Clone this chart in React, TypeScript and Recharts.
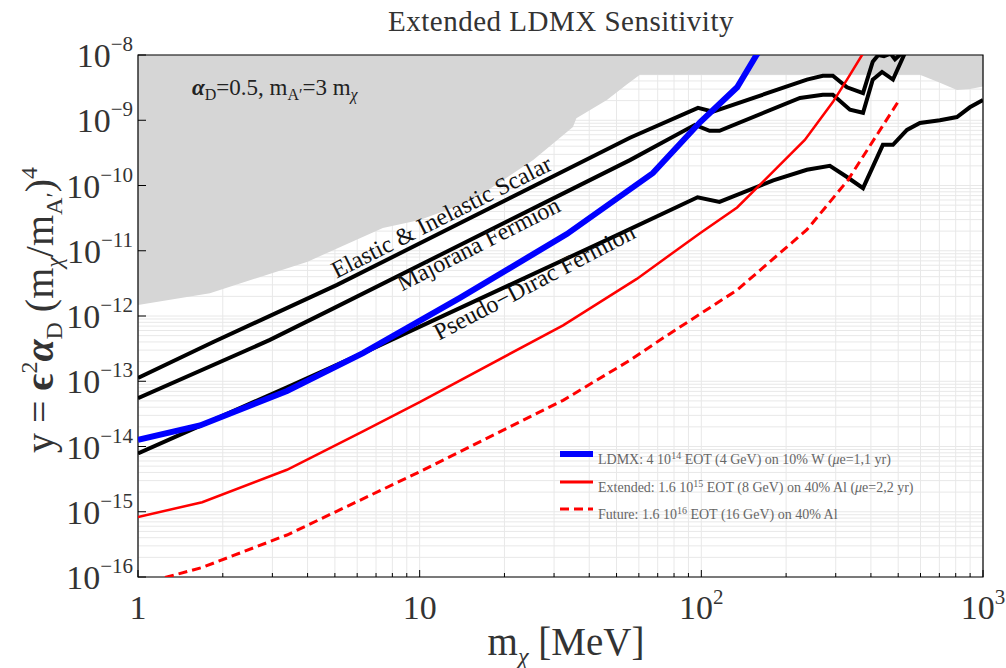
import React from "react";
import {
  ComposedChart,
  Line,
  Area,
  XAxis,
  YAxis,
  CartesianGrid,
  ReferenceArea,
} from "recharts";

const W = 1006;
const H = 668;
const FONT = "'Liberation Serif', 'DejaVu Serif', serif";

// excluded region (lower edge), MeV vs y
const bgX = [1, 1.8, 4, 7.4, 10, 14.3, 16.8, 25.3, 35, 36, 46.2, 54.5, 60.5, 597, 700, 808, 900, 1000];
const bgY = [1.48e-12, 2.24e-12, 6.8e-12, 2.24e-11, 2.95e-11, 5.2e-11, 7.6e-11, 2.45e-10, 7.9e-10, 1.07e-9, 2.04e-9, 3.55e-9, 5.0e-9, 5.0e-9, 3.8e-9, 2.9e-9, 3.0e-9, 3.3e-9];

// relic targets
const scalarX = [1, 1.85, 5.09, 55.8, 97.3, 110, 237, 270, 293, 329, 375, 406, 425, 445, 470, 487, 530];
const scalarY = [1.12e-13, 4.0e-13, 3.0e-12, 5.4e-10, 1.55e-9, 1.35e-9, 4.2e-9, 4.8e-9, 4.8e-9, 3.2e-9, 2.6e-9, 7.9e-9, 1.0e-8, 9.6e-9, 1.05e-8, 8.6e-9, 1.2e-8];

const majX = [1, 2.94, 4.8, 26.7, 55.8, 94.9, 107, 116, 224, 270, 293, 337, 375, 406, 438, 479, 528];
const majY = [5.5e-14, 4.3e-13, 1.23e-12, 5.0e-11, 2.45e-10, 8.5e-10, 6.9e-10, 6.9e-10, 2.2e-9, 2.45e-9, 2.45e-9, 1.45e-9, 1.3e-9, 4.2e-9, 5.5e-9, 4.2e-9, 1.07e-8];

const pdX = [1, 3.38, 6.29, 48.5, 97, 116, 180, 237, 286, 329, 375, 441, 479, 537, 597, 703, 808, 898, 1000];
const pdY = [7.8e-15, 8.1e-14, 2.7e-13, 1.62e-11, 6.6e-11, 5.6e-11, 1.2e-10, 1.74e-10, 2.0e-10, 1.35e-10, 9.1e-11, 4.2e-10, 4.2e-10, 7.1e-10, 9.1e-10, 1.0e-9, 1.12e-9, 1.58e-9, 2.04e-9];

// projections
const ldmxX = [1, 1.66, 3.38, 6.29, 13.9, 33.3, 67.3, 98.9, 134, 157, 170];
const ldmxY = [1.26e-14, 2.1e-14, 7.1e-14, 2.7e-13, 1.9e-12, 1.8e-11, 1.55e-10, 9.3e-10, 3.2e-9, 1.0e-8, 1.6e-8];

const extX = [1, 1.69, 3.38, 6.29, 10, 32.3, 59, 98.9, 134, 233, 293, 329, 372, 390];
const extY = [8.3e-16, 1.4e-15, 4.4e-15, 1.7e-14, 4.8e-14, 7.2e-13, 3.7e-12, 1.86e-11, 4.6e-11, 5.0e-10, 1.9e-9, 4.2e-9, 1.0e-8, 1.4e-8];

const futX = [1, 1.69, 3.38, 10, 32.3, 55.8, 73.1, 134, 237, 331, 499];
const futY = [7.6e-17, 1.4e-16, 4.4e-16, 4.1e-15, 5.1e-14, 2.1e-13, 4.6e-13, 2.5e-12, 2.1e-11, 1.2e-10, 1.9e-9];

const xMajor = [1, 10, 100, 1000];
const yMajor = [1e-16, 1e-15, 1e-14, 1e-13, 1e-12, 1e-11, 1e-10, 1e-9, 1e-8];

// minor grid positions (2..9 per decade)
const xMinor: number[] = [];
xMajor.slice(0, 3).forEach((d) => {
  for (let m = 1; m < 10; m++) xMinor.push(m * d);
});
xMinor.push(1000);
const yMinor: number[] = [];
yMajor.slice(0, 8).forEach((d) => {
  for (let m = 1; m < 10; m++) yMinor.push(m * d);
});
yMinor.push(1e-8);

const rows = (xs: number[], ys: number[]) => xs.map((x, i) => ({ x, y: ys[i] }));
const bandRows = bgX.map((x, i) => ({ x, band: [bgY[i], 1e-8] }));

function XTick(props: any) {
  const { x, y, payload } = props;
  const v = payload.value;
  const major = xMajor.includes(v);
  const e = Math.round(Math.log10(v));
  return (
    <g>
      <line x1={x} x2={x} y1={y} y2={y - (major ? 7 : 4)} stroke="#000" strokeWidth={1} />
      {major && (
        <text x={x} y={y + 42} textAnchor="middle" fontSize={34} fontFamily={FONT} fill="#333">
          {e < 2 ? String(v) : (
            <>
              10<tspan dy={-15} fontSize={21}>{e}</tspan>
            </>
          )}
        </text>
      )}
    </g>
  );
}

function YTick(props: any) {
  const { x, y, payload } = props;
  const e = Math.round(Math.log10(payload.value));
  return (
    <g>
      <line x1={x} x2={x + 8} y1={y} y2={y} stroke="#000" strokeWidth={1} />
      <text x={x - 5} y={y + 12} textAnchor="end" fontSize={34} fontFamily={FONT} fill="#333">
        10<tspan dy={-16} fontSize={21}>{"\u2212" + Math.abs(e)}</tspan>
      </text>
    </g>
  );
}

function Overlay() {
  const legend = [
    { y: 454, color: "#0000ff", w: 6, dash: undefined, text: ["LDMX: 4 10", "14", " EOT (4 GeV) on 10% W (", "\u03bc", "e=1,1 yr)"] },
    { y: 482, color: "#ff0000", w: 3, dash: undefined, text: ["Extended: 1.6 10", "15", " EOT (8 GeV) on 40% Al (", "\u03bc", "e=2,2 yr)"] },
    { y: 509, color: "#ff0000", w: 3, dash: "9 5", text: ["Future: 1.6 10", "16", " EOT (16 GeV) on 40% Al", "", ""] },
  ];
  return (
    <svg width={W} height={H} style={{ position: "absolute", left: 0, top: 0, pointerEvents: "none" }}>
      <text x={561} y={31} textAnchor="middle" fontSize={29} fontFamily={FONT} fill="#333" letterSpacing={0.5}>
        Extended LDMX Sensitivity
      </text>

      <text transform="translate(53,310) rotate(-90)" textAnchor="middle" fontSize={40} fontFamily={FONT} fill="#333">
        y = <tspan fontWeight="bold">{"\u03f5"}</tspan>
        <tspan dy={-16} fontSize={24}>2</tspan>
        <tspan dy={16} fontWeight="bold" fontStyle="italic">{"\u03b1"}</tspan>
        <tspan dy={9} fontSize={24}>D</tspan>
        <tspan dy={-9}> (m</tspan>
        <tspan dy={9} fontSize={24} fontStyle="italic">{"\u03c7"}</tspan>
        <tspan dy={-9}>/m</tspan>
        <tspan dy={9} fontSize={24}>{"A\u2032"}</tspan>
        <tspan dy={-9}>)</tspan>
        <tspan dy={-16} fontSize={24}>4</tspan>
      </text>

      <text x={566} y={655} textAnchor="middle" fontSize={39} fontFamily={FONT} fill="#333">
        m<tspan dy={9} fontSize={24} fontStyle="italic">{"\u03c7"}</tspan>
        <tspan dy={-9}> [MeV]</tspan>
      </text>

      <text x={192} y={95} fontSize={23} fontFamily={FONT} fill="#222">
        <tspan fontWeight="bold" fontStyle="italic">{"\u03b1"}</tspan>
        <tspan dy={5} fontSize={16}>D</tspan>
        <tspan dy={-5}>=0.5, m</tspan>
        <tspan dy={5} fontSize={16}>{"A\u2032"}</tspan>
        <tspan dy={-5}>=3 m</tspan>
        <tspan dy={5} fontSize={16} fontStyle="italic">{"\u03c7"}</tspan>
      </text>

      <text transform="translate(445,224) rotate(-26.8)" textAnchor="middle" fontSize={24} fontFamily={FONT} fill="#111">
        {"Elastic & Inelastic Scalar"}
      </text>
      <text transform="translate(482,251) rotate(-26.8)" textAnchor="middle" fontSize={24} fontFamily={FONT} fill="#111">
        Majorana Fermion
      </text>
      <text transform="translate(538,289) rotate(-27.6)" textAnchor="middle" fontSize={24} fontFamily={FONT} fill="#111">
        {"Pseudo\u2212Dirac Fermion"}
      </text>

      {legend.map((r, i) => (
        <g key={i}>
          <line x1={560} x2={593} y1={r.y} y2={r.y} stroke={r.color} strokeWidth={r.w} strokeDasharray={r.dash} />
          <text x={598} y={r.y + 10} fontSize={14} fontFamily={FONT} fill="#666">
            {r.text[0]}
            <tspan dy={-5} fontSize={10}>{r.text[1]}</tspan>
            <tspan dy={5}>{r.text[2]}</tspan>
            <tspan fontStyle="italic">{r.text[3]}</tspan>
            {r.text[4]}
          </text>
        </g>
      ))}
    </svg>
  );
}

export default function App() {
  return (
    <div style={{ position: "fixed", left: 0, top: 0, width: W, height: H, background: "#fff" }}>
      <ComposedChart width={W} height={H} margin={{ top: 55, right: 23, bottom: 0, left: 0 }}>
        <CartesianGrid
          stroke="#e8e8e8"
          strokeWidth={1}
          horizontalValues={yMinor}
          verticalValues={xMinor}
        />
        <XAxis
          dataKey="x"
          type="number"
          scale="log"
          domain={[1, 1000]}
          allowDataOverflow
          ticks={xMinor}
          interval={0}
          tick={<XTick />}
          tickLine={false}
          tickSize={0}
          tickMargin={0}
          axisLine={false}
          height={91}
        />
        <YAxis
          type="number"
          scale="log"
          domain={[1e-16, 1e-8]}
          allowDataOverflow
          ticks={yMajor}
          interval={0}
          tick={<YTick />}
          tickLine={false}
          tickSize={0}
          tickMargin={0}
          axisLine={false}
          width={138}
        />
        <Area
          data={bandRows}
          dataKey="band"
          type="linear"
          stroke="none"
          fill="#d6d6d6"
          fillOpacity={1}
          isAnimationActive={false}
        />
        <Line data={rows(scalarX, scalarY)} dataKey="y" type="linear" stroke="#000" strokeWidth={4} dot={false} isAnimationActive={false} />
        <Line data={rows(majX, majY)} dataKey="y" type="linear" stroke="#000" strokeWidth={4} dot={false} isAnimationActive={false} />
        <Line data={rows(pdX, pdY)} dataKey="y" type="linear" stroke="#000" strokeWidth={4} dot={false} isAnimationActive={false} />
        <Line data={rows(ldmxX, ldmxY)} dataKey="y" type="linear" stroke="#0000ff" strokeWidth={6} dot={false} isAnimationActive={false} />
        <Line data={rows(extX, extY)} dataKey="y" type="linear" stroke="#ff0000" strokeWidth={2.5} dot={false} isAnimationActive={false} />
        <Line data={rows(futX, futY)} dataKey="y" type="linear" stroke="#ff0000" strokeWidth={3} strokeDasharray="9 5" dot={false} isAnimationActive={false} />
        <ReferenceArea x1={1} x2={1000} y1={1e-16} y2={1e-8} fill="none" stroke="#000" strokeWidth={1.2} ifOverflow="visible" />
      </ComposedChart>
      <Overlay />
    </div>
  );
}
